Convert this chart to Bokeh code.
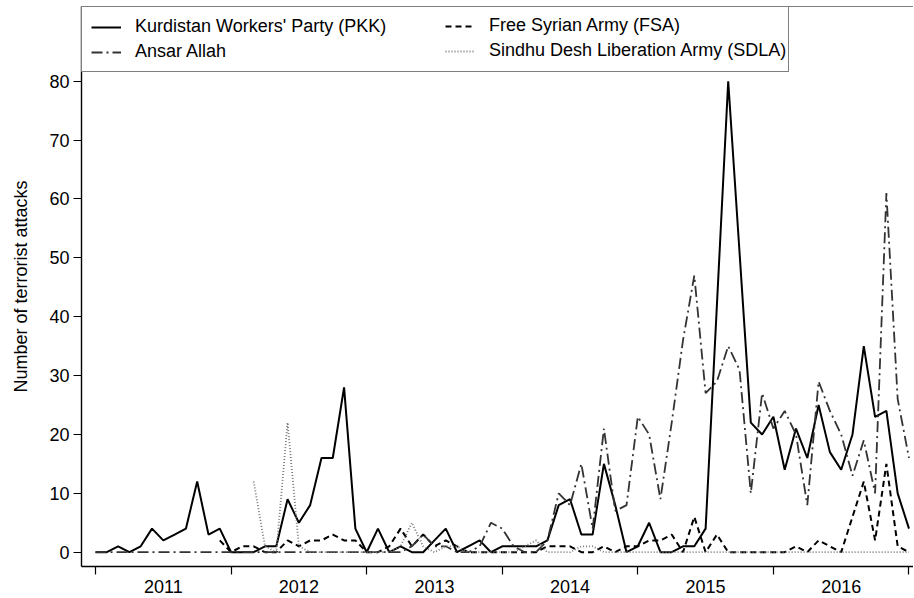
import numpy as np
from bokeh.plotting import figure
from bokeh.models import FixedTicker, Legend, LegendItem, Span, Range1d
from bokeh.embed import file_html
from bokeh.resources import INLINE

nan = float("nan")

# Year labels (each year = 12 monthly observations starting Jan 2011)
years = ["2011", "2012", "2013", "2014", "2015", "2016"]

# Monthly number of terrorist attacks (month index 0 = Jan 2011)
pkk = [0, 0, 1, 0, 1, 4, 2, 3, 4, 12, 3, 4,
       0, 0, 0, 1, 1, 9, 5, 8, 16, 16, 28, 4,
       0, 4, 0, 1, 0, 0, 2, 4, 0, 1, 2, 0,
       1, 1, 1, 1, 2, 8, 9, 3, 3, 15, 8, 0,
       1, 5, 0, 0, 1, 1, 4, 42, 80, 51, 22, 20,
       23, 14, 21, 16, 25, 17, 14, 20, 35, 23, 24, 10,
       4]

fsa = [nan, nan, nan, nan, nan, nan, nan, nan, nan, nan, nan, 2,
       0, 1, 1, 0, 0, 2, 1, 2, 2, 3, 2, 2,
       0, 0, 1, 4, 1, 3, 1, 2, 1, 0, 0, 0,
       0, 0, 0, 0, 1, 1, 1, 0, 0, 1, 0, 1,
       1, 2, 2, 3, 0, 6, 0, 3, 0, 0, 0, 0,
       0, 0, 1, 0, 2, 1, 0, 6, 12, 2, 15, 1,
       0]

ansar = [0, 0, 0, 0, 0, 0, 0, 0, 0, 0, 0, 0,
         0, 0, 0, 0, 0, 0, 0, 0, 0, 0, 0, 0,
         0, 0, 0, 0, 1, 3, 1, 1, 0, 0, 1, 5,
         4, 1, 0, 0, 2, 10, 8, 15, 4, 21, 7, 8,
         23, 20, 9, 22, 36, 47, 27, 29, 35, 31, 10, 27,
         21, 24, 20, 8, 29, 24, 20, 13, 19, 10, 61, 26,
         16]

sdla = [nan, nan, nan, nan, nan, nan, nan, nan, nan, nan, nan, nan,
        nan, nan, 12, 1, 0, 22, 1, 0, 0, 0, 0, 0,
        0, 0, 0, 1, 5, 1, 0, 1, 1, 0, 0, 0,
        0, 0, 1, 2, 0, 0, 0, 1, 1, 0, 0, 0,
        0, 0, 0, 0, 0, 0, 0, 0, 0, 0, 0, 0,
        0, 0, 0, 0, 0, 0, 0, 0, 0, 0, 0, 0,
        0]

y_ticks = [0, 10, 20, 30, 40, 50, 60, 70, 80]

months = np.arange(len(pkk))
year_mid = [12 * k + 6 for k in range(len(years))]
year_edges = [12 * k for k in range(len(years) + 1)]

FONT = "Liberation Sans"
Y_TOP = 92.69

p = figure(width=913, height=597, output_backend="svg", toolbar_location=None,
           x_range=Range1d(-1.24, 72.4), y_range=Range1d(-2.43, Y_TOP),
           min_border_left=81, min_border_right=0, min_border_top=6,
           min_border_bottom=31)
p.background_fill_color = "white"
p.border_fill_color = "white"
p.outline_line_color = None
p.xgrid.visible = False
p.ygrid.visible = False

r_pkk = p.line(months, pkk, line_color="black", line_width=2)
r_fsa = p.line(months, fsa, line_color="black", line_width=2, line_dash="6 4")
r_ansar = p.line(months, ansar, line_color="#333333", line_width=1.8,
                 line_dash="11 4 2 4")
r_sdla = p.line(months, sdla, line_color="#7a7a7a", line_width=1.8,
                line_dash="1 2")

# x axis: year labels centred in each year, ticks at year boundaries
xa = p.xaxis[0]
xa.ticker = FixedTicker(ticks=year_mid, minor_ticks=year_edges)
xa.major_label_overrides = {m: y for m, y in zip(year_mid, years)}
xa.major_tick_out = 0
xa.major_tick_in = 0
xa.minor_tick_out = 8
xa.minor_tick_in = 0
xa.minor_tick_line_color = "black"
xa.minor_tick_line_width = 1.2
xa.axis_line_color = "black"
xa.axis_line_width = 1.4
xa.major_label_standoff = 5
xa.major_label_text_font = FONT
xa.major_label_text_font_size = "18px"
xa.major_label_text_color = "black"

ya = p.yaxis[0]
ya.ticker = FixedTicker(ticks=y_ticks, minor_ticks=[])
ya.major_tick_out = 8
ya.major_tick_in = 0
ya.major_tick_line_color = "black"
ya.major_tick_line_width = 1.2
ya.axis_line_color = "black"
ya.axis_line_width = 1.4
ya.major_label_standoff = 4
ya.major_label_orientation = "horizontal"
ya.major_label_text_font = FONT
ya.major_label_text_font_size = "18px"
ya.major_label_text_color = "black"
ya.axis_label = "Number of terrorist attacks"
ya.axis_label_text_font = FONT
ya.axis_label_text_font_size = "18px"
ya.axis_label_text_font_style = "normal"
ya.axis_label_text_color = "black"
ya.axis_label_standoff = 15

# top border of the plot region
p.add_layout(Span(location=Y_TOP, dimension="width", line_color="black", line_width=1.2))

common = dict(margin=0, padding=9, spacing=4, glyph_width=30, glyph_height=20,
              label_standoff=14, label_height=20,
              label_text_font=FONT, label_text_font_size="18px",
              label_text_color="black")

# first legend column: also carries the box around the whole legend
legend_a = Legend(items=[
    LegendItem(label="Kurdistan Workers' Party (PKK)", renderers=[r_pkk]),
    LegendItem(label="Ansar Allah", renderers=[r_ansar]),
], location="top_left", label_width=644,
    border_line_color="black", border_line_width=1.2,
    background_fill_color="white", background_fill_alpha=1.0, **common)

# second legend column, drawn inside the same box
legend_b = Legend(items=[
    LegendItem(label="Free Syrian Army (FSA)", renderers=[r_fsa]),
    LegendItem(label="Sindhu Desh Liberation Army (SDLA)", renderers=[r_sdla]),
], location=(364, 505), label_width=20,
    border_line_color=None, background_fill_alpha=0.0, **common)

p.add_layout(legend_a, "center")
p.add_layout(legend_b, "center")

open("out.html", "w").write(file_html(p, INLINE))
